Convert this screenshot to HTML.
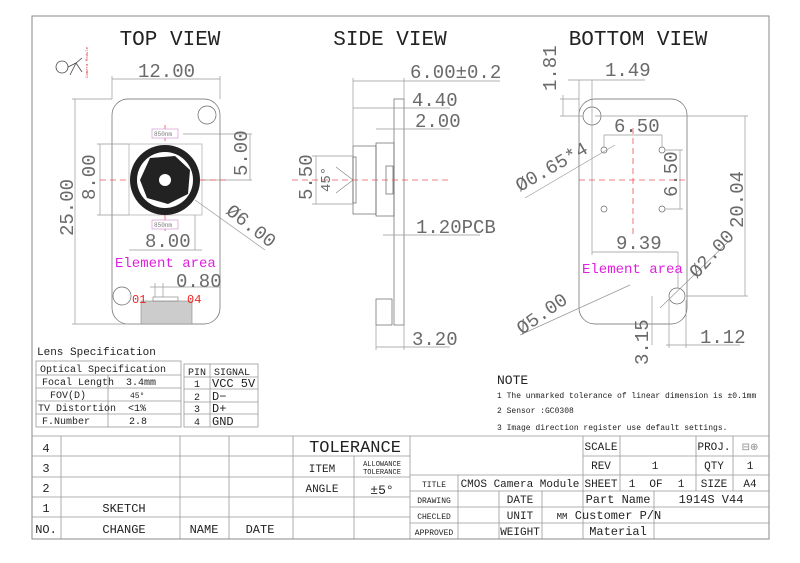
<!DOCTYPE html>
<html><head><meta charset="utf-8"><style>
html,body{margin:0;padding:0;background:#fff}
svg text{font-family:"Liberation Mono","Liberation Serif",monospace}
</style></head><body>
<svg width="800" height="558" viewBox="0 0 800 558" xmlns="http://www.w3.org/2000/svg">
<rect x="0" y="0" width="800" height="558" fill="#fff"/>
<rect x="32" y="16" width="737" height="523" fill="none" stroke="#888" stroke-width="1"/>
<!-- titles -->
<g font-size="21" fill="#222" text-anchor="middle">
<text x="170" y="45">TOP VIEW</text><text x="390" y="45">SIDE VIEW</text><text x="638" y="45">BOTTOM VIEW</text>
</g>
<!-- logo -->
<g stroke="#444" fill="none" stroke-width="0.8"><circle cx="62" cy="67" r="6"/><path d="M68 67 L76 63 L82 58 M76 63 L82 72 M76 63 L70 75"/></g>
<text x="88" y="78" font-size="4" fill="#d33" transform="rotate(-90 88 78)">Camera Module</text>

<g stroke="#999" stroke-width="0.7" fill="none">
<!-- TOP VIEW -->
<rect x="112" y="99" width="108" height="225" rx="16" stroke="#666"/>
<circle cx="207" cy="115" r="9" stroke="#666"/><circle cx="122" cy="296" r="9" stroke="#666"/>
<rect x="129" y="144" width="73" height="71" stroke="#aaa"/>
<line x1="112" y1="76" x2="112" y2="99"/><line x1="220" y1="76" x2="220" y2="99"/><line x1="112" y1="79" x2="220" y2="79"/>
<line x1="72" y1="99" x2="112" y2="99"/><line x1="72" y1="324" x2="141" y2="324"/><line x1="75" y1="99" x2="75" y2="324"/>
<line x1="97" y1="144" x2="129" y2="144"/><line x1="97" y1="215" x2="129" y2="215"/><line x1="100" y1="144" x2="100" y2="215"/>
<line x1="183" y1="134" x2="252" y2="134"/><line x1="183" y1="180" x2="252" y2="180"/><line x1="250" y1="134" x2="250" y2="180"/>
<line x1="129" y1="250" x2="202" y2="250"/><line x1="195" y1="215" x2="195" y2="250"/>
<line x1="195" y1="200" x2="265" y2="250"/>
<line x1="150" y1="287" x2="220" y2="287"/><line x1="155" y1="283" x2="155" y2="297"/><line x1="163" y1="283" x2="163" y2="297"/>
<!-- SIDE VIEW -->
<rect x="394" y="99" width="10" height="226" stroke="#666"/>
<rect x="376" y="143" width="18" height="73" stroke="#666"/>
<rect x="353" y="146" width="23" height="68" stroke="#666"/>
<rect x="353" y="157" width="3" height="46" stroke="#666"/>
<rect x="386" y="166" width="7" height="28" stroke="#666"/>
<rect x="376" y="299" width="16" height="26" stroke="#666"/>
<line x1="353" y1="81" x2="500" y2="81"/><line x1="353" y1="78" x2="353" y2="146"/><line x1="404" y1="78" x2="404" y2="99"/>
<line x1="353" y1="108" x2="450" y2="108"/>
<line x1="376" y1="129" x2="450" y2="129"/>
<line x1="383" y1="235" x2="480" y2="235"/>
<line x1="376" y1="347" x2="450" y2="347"/><line x1="376" y1="325" x2="376" y2="350"/><line x1="404" y1="325" x2="404" y2="350"/>
<line x1="312" y1="156" x2="353" y2="156"/><line x1="312" y1="204" x2="353" y2="204"/><line x1="316" y1="156" x2="316" y2="204"/>
<path d="M336 167 L353 180 L336 193" stroke="#888"/>
<!-- BOTTOM VIEW -->
<rect x="579" y="99" width="108" height="225" rx="16" stroke="#666"/>
<circle cx="592" cy="116" r="9" stroke="#666"/><circle cx="677" cy="296" r="8" stroke="#666"/>
<circle cx="604" cy="150" r="3" stroke="#666"/><circle cx="662" cy="150" r="3" stroke="#666"/>
<circle cx="604" cy="209" r="3" stroke="#666"/><circle cx="662" cy="209" r="3" stroke="#666"/>
<line x1="568" y1="80" x2="645" y2="80"/><line x1="579" y1="80" x2="579" y2="116"/><line x1="592" y1="80" x2="592" y2="116"/>
<line x1="560" y1="99" x2="579" y2="99"/><line x1="560" y1="116" x2="583" y2="116"/><line x1="563" y1="95" x2="563" y2="116"/>
<line x1="604" y1="135" x2="662" y2="135"/><line x1="604" y1="135" x2="604" y2="147"/><line x1="662" y1="135" x2="662" y2="147"/>
<line x1="665" y1="150" x2="683" y2="150"/><line x1="665" y1="209" x2="683" y2="209"/><line x1="680" y1="150" x2="680" y2="209"/>
<line x1="595" y1="116" x2="748" y2="116"/><line x1="686" y1="296" x2="748" y2="296"/><line x1="745" y1="116" x2="745" y2="296"/>
<line x1="592" y1="116" x2="592" y2="255"/><line x1="592" y1="252" x2="678" y2="252"/><line x1="678" y1="252" x2="678" y2="288"/>
<line x1="525" y1="198" x2="615" y2="145"/>
<line x1="520" y1="335" x2="630" y2="285"/>
<line x1="660" y1="308" x2="730" y2="240"/>
<line x1="652" y1="296" x2="652" y2="345"/><line x1="666" y1="345" x2="740" y2="345"/><line x1="669" y1="300" x2="669" y2="348"/><line x1="686" y1="300" x2="686" y2="348"/>
</g>
<!-- red dashed center lines -->
<g stroke="#e55" stroke-width="0.8" stroke-dasharray="6,4">
<line x1="100" y1="180" x2="230" y2="180"/><line x1="165" y1="125" x2="165" y2="235"/>
<line x1="292" y1="180" x2="450" y2="180"/>
<line x1="579" y1="180" x2="687" y2="180"/><line x1="633" y1="128" x2="633" y2="235"/>
</g>
<!-- lens -->
<circle cx="165" cy="180" r="35" fill="#222"/>
<circle cx="165" cy="180" r="28" fill="#fff"/>
<path d="M150 158 L175 156 L190 170 L188 194 L168 204 L147 198 L140 180 Z" fill="#222"/>
<circle cx="165" cy="180" r="6" fill="#fff"/>
<g fill="#fff" stroke="#c8c" stroke-width="0.6"><rect x="152" y="129" width="26" height="9"/><rect x="152" y="220" width="26" height="9"/></g>
<g font-size="6" fill="#777"><text x="154" y="136">850nm</text><text x="154" y="227">850nm</text></g>
<!-- connector -->
<rect x="141" y="301" width="51" height="23" fill="#ccc" stroke="#888" stroke-width="0.6"/>
<rect x="153" y="297" width="25" height="4" fill="#fff" stroke="#777" stroke-width="0.6"/>
<g font-size="12" fill="#e22"><text x="132" y="303">01</text><text x="187" y="303">04</text></g>
<!-- dimension text -->
<g font-size="19" fill="#6a6a6a">
<text x="138" y="77">12.00</text>
<text x="73" y="236" transform="rotate(-90 73 236)">25.00</text>
<text x="95" y="200" transform="rotate(-90 95 200)">8.00</text>
<text x="247" y="176" transform="rotate(-90 247 176)">5.00</text>
<text x="225" y="213" transform="rotate(38 225 213)">Ø6.00</text>
<text x="145" y="247">8.00</text>
<text x="176" y="287">0.80</text>
<text x="410" y="78">6.00±0.2</text>
<text x="412" y="106">4.40</text>
<text x="415" y="127">2.00</text>
<text x="416" y="233">1.20PCB</text>
<text x="412" y="345">3.20</text>
<text x="312" y="200" transform="rotate(-90 312 200)">5.50</text>
<text x="330" y="192" font-size="14" transform="rotate(-90 330 192)">45°</text>
<text x="556" y="91" transform="rotate(-90 556 91)">1.81</text>
<text x="605" y="76">1.49</text>
<text x="614" y="132">6.50</text>
<text x="677" y="197" transform="rotate(-90 677 197)">6.50</text>
<text x="520" y="192" transform="rotate(-30 520 192)">Ø0.65*4</text>
<text x="743" y="228" transform="rotate(-90 743 228)">20.04</text>
<text x="616" y="249">9.39</text>
<text x="697" y="279" transform="rotate(-48 697 279)">Ø2.00</text>
<text x="522" y="335" transform="rotate(-35 522 335)">Ø5.00</text>
<text x="648" y="365" transform="rotate(-90 648 365)">3.15</text>
<text x="700" y="343">1.12</text>
</g>
<g font-size="14" fill="#e020e0">
<text x="115" y="267">Element area</text><text x="582" y="273">Element area</text>
</g>
<!-- lens spec -->
<g fill="#222" font-size="11">
<text x="37" y="355">Lens Specification</text>
</g>
<g stroke="#999" stroke-width="0.8" fill="none">
<rect x="36" y="361" width="145" height="66"/>
<line x1="36" y1="375" x2="181" y2="375"/><line x1="36" y1="388" x2="181" y2="388"/><line x1="36" y1="401" x2="181" y2="401"/><line x1="36" y1="414" x2="181" y2="414"/>
<line x1="108" y1="375" x2="108" y2="427"/>
<rect x="184" y="364" width="74" height="63"/>
<line x1="184" y1="377" x2="258" y2="377"/><line x1="184" y1="389" x2="258" y2="389"/><line x1="184" y1="402" x2="258" y2="402"/><line x1="184" y1="414" x2="258" y2="414"/>
<line x1="210" y1="364" x2="210" y2="427"/>
</g>
<g fill="#222" font-size="10">
<text x="40" y="372">Optical Specification</text>
<text x="42" y="385">Focal Length</text><text x="126" y="385">3.4mm</text>
<text x="50" y="398">FOV(D)</text><text x="130" y="398" font-size="8">45°</text>
<text x="38" y="411">TV Distortion</text><text x="128" y="411">&lt;1%</text>
<text x="42" y="424">F.Number</text><text x="129" y="424">2.8</text>
<text x="188" y="375">PIN</text><text x="214" y="375">SIGNAL</text>
<text x="194" y="387">1</text><text x="212" y="387" font-size="12">VCC 5V</text>
<text x="194" y="400">2</text><text x="212" y="400" font-size="12">D−</text>
<text x="194" y="412">3</text><text x="212" y="412" font-size="12">D+</text>
<text x="194" y="425">4</text><text x="212" y="425" font-size="12">GND</text>
</g>
<!-- notes -->
<g fill="#222">
<text x="497" y="384" font-size="13">NOTE</text>
<text x="497" y="398" font-size="8">1  The unmarked tolerance of linear dimension is ±0.1mm</text>
<text x="497" y="413" font-size="8">2  Sensor :GC0308</text>
<text x="497" y="430" font-size="8">3  Image direction register use default settings.</text>
</g>
<!-- bottom-left table -->
<g stroke="#999" stroke-width="0.8" fill="none">
<line x1="32" y1="436" x2="769" y2="436"/>
<line x1="32" y1="456" x2="410" y2="456"/><line x1="32" y1="477" x2="410" y2="477"/><line x1="32" y1="497" x2="410" y2="497"/><line x1="32" y1="517" x2="410" y2="517"/>
<line x1="61" y1="436" x2="61" y2="539"/><line x1="180" y1="436" x2="180" y2="539"/><line x1="229" y1="436" x2="229" y2="539"/><line x1="293" y1="436" x2="293" y2="539"/><line x1="354" y1="456" x2="354" y2="539"/><line x1="410" y1="436" x2="410" y2="539"/>
<!-- right table -->
<line x1="583" y1="456" x2="769" y2="456"/><line x1="410" y1="475" x2="769" y2="475"/><line x1="410" y1="491" x2="769" y2="491"/><line x1="410" y1="507" x2="769" y2="507"/><line x1="410" y1="523" x2="769" y2="523"/>
<line x1="583" y1="436" x2="583" y2="539"/><line x1="620" y1="436" x2="620" y2="491"/><line x1="696" y1="436" x2="696" y2="491"/><line x1="733" y1="436" x2="733" y2="491"/>
<line x1="458" y1="475" x2="458" y2="539"/><line x1="499" y1="491" x2="499" y2="539"/><line x1="542" y1="491" x2="542" y2="539"/><line x1="654" y1="491" x2="654" y2="539"/>
</g>
<g fill="#222" font-size="12" text-anchor="middle">
<text x="46" y="452">4</text><text x="46" y="472">3</text><text x="46" y="492">2</text><text x="46" y="512">1</text><text x="46" y="533">NO.</text>
<text x="124" y="512">SKETCH</text><text x="124" y="533">CHANGE</text><text x="204" y="533">NAME</text><text x="260" y="533">DATE</text>
<text x="355" y="452" font-size="17">TOLERANCE</text>
<text x="322" y="472" font-size="11">ITEM</text><text x="322" y="492" font-size="11">ANGLE</text>
<text x="382" y="466" font-size="7">ALLOWANCE</text><text x="382" y="474" font-size="7">TOLERANCE</text>
<text x="382" y="494" font-size="13">±5°</text>
<text x="601" y="450" font-size="11">SCALE</text><text x="714" y="450" font-size="11">PROJ.</text><text x="750" y="450" font-size="10" fill="#888">⊟⊕</text>
<text x="601" y="469" font-size="11">REV</text><text x="655" y="469" font-size="11">1</text><text x="714" y="469" font-size="11">QTY</text><text x="750" y="469" font-size="11">1</text>
<text x="434" y="487" font-size="8">TITLE</text><text x="520" y="487" font-size="11">CMOS Camera Module</text>
<text x="601" y="487" font-size="11">SHEET</text><text x="632" y="487" font-size="11">1</text><text x="656" y="487" font-size="11">OF</text><text x="681" y="487" font-size="11">1</text><text x="714" y="487" font-size="11">SIZE</text><text x="750" y="487" font-size="11">A4</text>
<text x="434" y="503" font-size="8">DRAWING</text><text x="520" y="503" font-size="11">DATE</text><text x="618" y="503" font-size="12">Part Name</text><text x="711" y="503" font-size="12">1914S V44</text>
<text x="434" y="519" font-size="8">CHECLED</text><text x="520" y="519" font-size="11">UNIT</text><text x="562" y="519" font-size="9">MM</text><text x="618" y="519" font-size="12">Customer P/N</text>
<text x="434" y="535" font-size="8">APPROVED</text><text x="520" y="535" font-size="11">WEIGHT</text><text x="618" y="535" font-size="12">Material</text>
</g>
</svg>
</body></html>
